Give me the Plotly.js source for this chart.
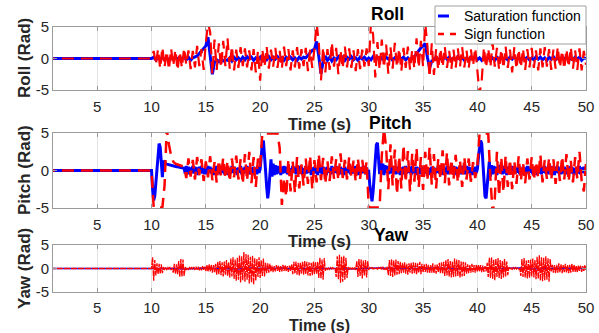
<!DOCTYPE html>
<html><head><meta charset="utf-8">
<script src="https://cdn.plot.ly/plotly-3.0.1.min.js"></script>
<style>html,body{margin:0;padding:0;background:#fff}#chart{width:599px;height:333px}</style>
</head><body><div id="chart"></div>
<script>
const seriesNames = ['Saturation function', 'Sign function'];
const panelTitles = ['Roll', 'Pitch', 'Yaw'];
const yLabels = ['Roll (Rad)', 'Pitch (Rad)', 'Yaw (Rad)'];
const xLabel = 'Time (s)';
const xTicks = [5, 10, 15, 20, 25, 30, 35, 40, 45, 50];
const yTicks = [-5, 0, 5];
const xRange = [0.93, 50];
const yRange = [-5, 5];

// Before t = 10 s every signal rests at zero
const idleTime = [0];
const idleValue = [0];
const sampleStart = 10;

// Roll, sampled every 0.2 s from 10 s
const rollStep = 0.2;
const rollSat = [
0,0.2,-0.2,0.1,-0.1, 0.2,-0.2,0.1,-0.3,0.2, -0.1,0.3,-0.2,0.2,-0.1, 0.3,-0.2,0.2,-0.3,0.1,
0.2,0.4,0.8,1.2,1.6, 2.0,3.4,0.5,-2.5,-0.6, -0.2,-0.5,-0.1,-0.4,-0.2, -0.3,0.1,-0.4,0.2,-0.2,
0.1,-0.3,0.2,-0.2,0.3, -0.1,0.2,-0.3,0.1,-0.2, 0.2,-0.3,0.1,-0.2,0.3, -0.2,0.2,-0.1,0.3,-0.2,
0.1,-0.3,0.2,-0.1,0.2, -0.2,0.1,-0.3,0.2,-0.1, 0.2,0.1,0.5,0.9,1.3, 1.5,2.7,0.3,-2.4,-0.5,
0.4,-0.3,0.2,-0.4,0.1, -0.2,0.3,-0.1,0.2,-0.3, 0.2,-0.1,0.3,-0.2,0.1, -0.3,0.2,-0.1,0.2,-0.2,
0.1,-0.2,0.3,-0.1,0.2, -0.3,0.1,-0.2,0.2,-0.1, 0.2,-0.3,0.1,-0.2,0.3, -0.1,0.2,-0.2,0.1,-0.3,
0.2,0.3,0.8,1.2,1.7, 2.0,2.4,0.2,-1.5,-0.4, -0.2,0.2,-0.3,0.1,-0.2, 0.3,-0.1,0.2,-0.2,0.1,
-0.2,0.3,-0.1,0.2,-0.3, 0.1,-0.2,0.2,-0.1,0.3, -0.2,0.1,-0.3,0.2,-0.1, 0.2,-0.2,0.1,-0.3,0.2,
-0.1,0.3,-0.2,0.1,-0.2, 0.2,-0.1,0.3,-0.2,0.1, -0.3,0.2,-0.1,0.2,-0.2, 0.1,-0.2,0.3,-0.1,0.2,
-0.2,0.1,-0.3,0.2,-0.1, 0.3,-0.2,0.1,-0.2,0.2, -0.1,0.2,-0.3,0.1,-0.2, 0.2,-0.1,0.2,-0.3,0.1,
0];
const rollSign = [
0,1.2,-1.0,1.5,-1.6, 1.8,-1.4,1.2,-1.8,1.6, -1.2,1.4,-1.9,1.1,-1.5, 1.7,-1.0,1.3,-1.7,1.2,
-1.4,2.0,-1.2,1.5,-1.8, 2.5,5.6,4.2,-2.5,3.0, -1.8,2.4,-1.5,2.8,-1.2, 3.2,-1.6,2.0,-1.9,1.4,
-1.5,1.8,-1.2,1.6,-1.4, 1.3,-1.9,1.5,-2.2,1.2, -3.5,1.5,-1.4,1.9,-1.6, 1.4,-1.3,1.7,-1.5,1.2,
-1.6,1.9,-1.2,1.5,-1.9, 1.3,-1.4,1.8,-1.6,1.5, -1.2,1.7,-2.0,1.4,-1.5, 1.6,5.6,2.5,-3.5,1.8,
-2.2,1.5,-1.8,2.6,-1.3, 1.7,-2.5,1.4,-1.6,1.9, -1.4,1.6,-1.5,1.3,-2.0, 1.5,-1.7,1.4,-1.3,1.6,
-1.2,5.6,3.8,-3.0,2.6, -1.8,3.0,-1.5,2.2,-2.4, 1.8,-1.6,2.5,-1.4,1.6, -2.0,1.7,-1.5,1.9,-1.8,
1.4,-1.6,3.2,-1.5,2.8, -1.3,5.6,2.0,-3.0,2.4, -2.6,1.5,-1.8,1.6,-1.4, 1.9,-1.5,1.2,-1.7,1.4,
-1.5,1.6,-1.3,1.8,-1.4, 1.3,-1.6,1.5,-1.2,1.7, -2.0,-5.6,-3.5,1.8,-1.5, 1.6,-1.4,2.6,-1.3,1.7,
-1.8,1.5,-1.6,1.9,-1.5, 1.4,-2.2,1.8,-1.7,1.5, -1.5,1.6,-1.8,1.5,-1.4, 1.7,-1.5,1.3,-1.9,1.6,
-1.4,1.8,-1.3,1.5,-1.8, 1.4,-1.6,1.9,-1.5,1.3, -1.7,1.5,-1.4,1.8,-1.6, 1.3,-1.8,1.6,-1.9,1.2,
-1.0];

// Pitch: saturation sampled every 0.1 s, sign every 0.2 s
const pitchSatStep = 0.1;
const pitchSat = [
0,-2.5,-4.0,-3.4,-1.6,0.4,2.2,3.6,3.1,1.2,
-0.9,1.3,1.0,0.9,0.85,0.8,0.75,0.7,0.7,0.65,
0.6,0.6,0.55,0.5,0.5,0.45,0.45,0.4,0.4,0.35,
0.3,-0.4,0.6,-0.3,0.5,-0.5,0.4,-0.3,0.6,-0.4,
0.5,-0.3,0.4,-0.6,0.5,-0.2,0.6,-0.4,0.3,-0.5,
0.4,-0.5,0.6,-0.3,0.5,-0.4,0.3,-0.6,0.5,-0.3,
0.6,-0.4,0.3,-0.5,0.4,-0.3,0.6,-0.5,0.4,-0.3,
0.5,-0.6,0.3,-0.4,0.6,-0.3,0.5,-0.4,0.3,-0.6,
0.4,-0.3,0.6,-0.5,0.3,-0.4,0.5,-0.3,0.6,-0.4,
0.3,-0.5,0.4,-0.6,0.5,-0.3,0.4,-0.5,0.6,-0.3,
0.2,1.8,3.5,4.0,2.5,0.0,-2.2,-3.7,-2.5,0.0,
1.5,-0.8,0.9,-0.6,0.7,-0.5,0.6,-0.4,0.5,-0.6,
0.5,-0.4,0.6,-0.3,0.5,-0.5,0.4,-0.6,0.3,-0.4,
0.6,-0.3,0.5,-0.5,0.4,-0.4,0.6,-0.3,0.5,-0.6,
0.3,-0.5,0.6,-0.4,0.4,-0.3,0.5,-0.6,0.4,-0.3,
0.5,-0.4,0.3,-0.6,0.6,-0.3,0.4,-0.5,0.5,-0.4,
0.4,-0.6,0.5,-0.3,0.3,-0.5,0.6,-0.4,0.4,-0.3,
0.6,-0.4,0.4,-0.5,0.5,-0.3,0.3,-0.6,0.5,-0.4,
0.3,-0.3,0.6,-0.5,0.4,-0.4,0.5,-0.3,0.6,-0.5,
0.4,-0.6,0.3,-0.4,0.5,-0.3,0.6,-0.5,0.4,-0.3,
-0.2,-2.0,-3.6,-4.1,-2.8,-0.5,1.8,3.4,3.7,2.0,
-0.5,1.3,-0.4,0.9,-0.6,0.7,-0.3,0.6,-0.5,0.4,
0.5,-0.4,0.6,-0.3,0.4,-0.5,0.5,-0.4,0.3,-0.6,
0.4,-0.3,0.5,-0.5,0.6,-0.4,0.3,-0.3,0.5,-0.6,
0.6,-0.4,0.4,-0.3,0.5,-0.6,0.4,-0.5,0.3,-0.4,
0.5,-0.3,0.6,-0.4,0.4,-0.5,0.3,-0.6,0.5,-0.3,
0.4,-0.5,0.3,-0.3,0.6,-0.4,0.5,-0.5,0.4,-0.6,
0.3,-0.4,0.6,-0.5,0.5,-0.3,0.4,-0.4,0.6,-0.3,
0.5,-0.6,0.4,-0.3,0.3,-0.5,0.6,-0.4,0.4,-0.5,
0.6,-0.3,0.5,-0.4,0.4,-0.6,0.3,-0.5,0.5,-0.3,
0.2,1.8,3.4,4.0,3.6,1.5,-1.5,-3.4,-3.7,-2.0,
0.2,1.2,-0.8,0.7,-0.5,0.6,-0.4,0.5,-0.6,0.4,
0.5,-0.3,0.4,-0.5,0.6,-0.4,0.3,-0.6,0.5,-0.4,
0.4,-0.5,0.6,-0.3,0.5,-0.4,0.4,-0.3,0.6,-0.5,
0.3,-0.4,0.5,-0.6,0.4,-0.3,0.6,-0.4,0.5,-0.3,
0.6,-0.5,0.4,-0.3,0.3,-0.6,0.5,-0.4,0.4,-0.5,
0.5,-0.3,0.6,-0.4,0.4,-0.5,0.3,-0.3,0.6,-0.4,
0.4,-0.6,0.5,-0.3,0.6,-0.4,0.4,-0.5,0.3,-0.4,
0.5,-0.4,0.3,-0.5,0.5,-0.3,0.6,-0.4,0.4,-0.6,
0.3,-0.3,0.5,-0.4,0.6,-0.5,0.4,-0.3,0.5,-0.4,
0.3];
const pitchSignStep = 0.2;
const pitchSign = [
0,-4.93,-4.93,-4.93,-4.93, -4.93,-2.0,5.6,3.5,2.0, 1.2,0.9,0.8,0.7,0.6, 0.5,-1.0,1.6,-0.8,1.4,
-1.2,1.8,-0.6,1.5,-1.4, 1.2,-0.9,1.9,-1.3,1.1, -1.6,1.4,-0.8,1.7,-1.1, 1.3,-1.5,1.6,-0.9,2.0,
-1.2,1.5,-1.8,2.2,-1.4, 2.5,-1.7,1.8,-2.2,1.6, 0.5,4.93,4.93,4.93,4.93, 4.93,4.93,4.93,4.93,3.0,
-4.6,-1.0,-3.5,1.5,-2.8, 1.2,-3.0,1.8,-2.4,0.8, -2.0,1.6,-1.8,2.0,-2.5, 1.4,-1.6,2.2,-1.3,1.7,
-1.8,1.2,-1.4,1.9,-1.1, 1.5,-1.3,2.3,-1.0,1.4, -1.2,1.8,-0.9,1.3,-1.5, 1.6,-1.1,1.4,-0.8,1.2,
-4.93,-4.93,-4.93,-4.93,-4.93, -4.93,2.0,5.6,3.0,-2.5, 3.5,-2.0,2.8,-3.2,1.9, -2.4,3.4,-1.6,2.6,-2.8,
2.3,-1.5,3.0,-2.2,1.8, -2.6,2.5,-1.4,3.1,-1.9, 2.2,-2.4,1.6,-1.2,2.7, -1.7,2.4,-2.0,1.5,-1.3,
2.1,-1.6,1.4,-2.2,1.8, -1.2,1.6,-1.5,1.1,-1.0, 0.5,4.93,4.93,4.93,4.93, 4.93,-1.0,-5.6,-3.8,2.5,
-3.4,1.8,-2.9,2.0,-2.2, 1.5,-2.5,1.3,-1.8,1.9, -1.4,1.1,-1.7,1.6,-1.2, 1.8,-1.3,1.2,-1.0,2.1,
-1.6,1.4,-1.1,1.7,-1.3, 1.5,-1.8,1.2,-1.4,1.9, -1.2,2.2,-1.5,1.3,-1.6, 1.8,-1.1,2.5,-1.4,-2.8,
1.0];

// Yaw: saturation every 1 s, sign every 0.1 s
const yawSatStep = 1;
const yawSat = [0,0.1,0,-0.1,0,0.1,0,0,-0.1,0.1,0,0,0.1,-0.1,0,0,0.1,0,-0.1,0,0,0.1,0,0,-0.1,0,0.1,0,0,-0.1,0,0.1,0,0,0.1,-0.1,0,0,0.1,0,0];
const yawSignStep = 0.1;
const yawSign = [
0,2.4,-2.6,1.8,-1.5,1.1,-1.2,1.0,-1.1,0.9,
-1.0,0.3,-0.3,0.2,-0.3,0.3,-0.2,0.3,-0.3,0.2,
-0.9,1.0,-1.1,0.9,-1.2,1.6,-1.8,2.0,-1.7,1.9,
-1.6,0.3,-0.3,0.2,-0.3,0.3,-0.2,0.3,-0.2,0.3,
-0.3,0.4,-0.3,0.4,-0.4,0.3,-0.4,0.5,-0.3,0.4,
-0.6,0.8,-0.7,0.9,-0.6,0.8,-0.9,0.7,-0.8,1.0,
-1.3,1.5,-1.2,1.6,-1.4,1.3,-1.7,1.5,-1.3,1.8,
-1.6,1.4,-1.9,2.1,-1.7,2.4,-2.2,1.9,-2.6,2.3,
-2.4,2.8,-3.0,2.6,-2.5,3.5,-2.8,3.1,-2.4,2.9,
-3.2,2.5,-2.9,2.7,-3.4,2.2,-2.6,2.0,-1.8,2.4,
-2.0,1.8,-1.6,2.1,-1.7,1.2,-1.0,1.1,-0.9,1.0,
-0.7,0.6,-0.8,0.5,-0.6,0.7,-0.5,0.6,-0.7,0.5,
-0.6,0.8,-0.5,0.7,-0.6,0.5,-0.7,0.6,-0.5,0.9,
-1.2,1.4,-1.1,1.5,-1.3,1.2,-1.5,1.3,-1.1,1.4,
-1.3,1.6,-1.2,1.4,-1.5,1.3,-1.6,1.2,-1.4,1.5,
-1.2,1.3,-1.1,1.4,-2.0,2.3,-2.1,1.9,-2.4,2.2,
-0.5,0.2,-0.2,0.1,-0.2,0.2,-0.1,0.2,-0.2,0.1,
-1.8,2.6,-2.3,2.9,-3.0,2.5,-2.8,2.7,-2.4,2.3,
-2.0,0.3,-0.2,0.3,-0.2,0.2,-0.3,0.2,-0.3,1.6,
-1.8,2.0,-1.6,1.9,-2.1,1.7,-1.5,1.8,-1.9,1.6,
-0.3,0.2,-0.1,0.2,-0.1,0.1,-0.2,0.1,-0.1,0.2,
-0.2,0.3,-0.2,0.4,-0.3,0.2,-0.3,0.4,-1.4,1.8,
-1.6,2.0,-1.8,1.7,-1.5,1.9,-1.3,1.6,-1.2,1.4,
-1.0,1.2,-0.9,1.3,-1.1,1.0,-1.3,1.1,-0.9,1.2,
-1.1,1.3,-1.0,1.2,-1.3,1.1,-0.9,1.4,-1.2,1.0,
-0.8,0.9,-0.7,1.0,-0.9,0.8,-1.0,0.7,-0.9,1.1,
-1.0,0.8,-1.1,0.9,-0.8,1.2,-1.0,1.3,-1.1,1.4,
-1.6,1.8,-1.5,2.0,-1.7,1.6,-1.9,1.5,-1.8,2.1,
-1.7,1.9,-1.6,1.8,-2.0,1.5,-1.7,1.4,-1.6,1.3,
-1.1,0.9,-1.0,0.8,-0.9,1.0,-0.8,0.7,-0.9,0.8,
-0.7,0.8,-0.6,0.7,-0.8,0.6,-0.7,0.5,-0.6,1.2,
-1.8,2.3,-2.0,2.4,-2.2,1.9,-2.5,2.1,-1.8,2.2,
-2.0,1.8,-2.2,1.6,-1.9,2.0,-1.7,1.5,-1.4,0.3,
-0.2,0.1,-0.2,0.2,-0.1,0.2,-0.1,0.1,-0.2,0.1,
-1.6,2.0,-1.8,2.2,-1.9,1.7,-2.1,1.8,-2.0,1.9,
-1.7,2.1,-1.9,1.8,-2.3,2.5,-2.2,2.8,-2.6,2.4,
-2.7,2.3,-2.5,2.6,-2.4,2.2,-2.8,2.0,-0.6,0.8,
-0.9,0.7,-1.0,0.8,-0.9,1.1,-0.8,0.9,-1.0,0.7,
-0.8,1.0,-0.9,0.7,-1.0,0.8,-0.9,1.0,-0.7,0.8,
-0.7,0.6,-0.8,0.7,-0.5,0.6,-0.7,0.5,-0.6,0.7,
-0.3];

function sampled(step, values) {
  const x = idleTime.slice(), y = idleValue.slice();
  values.forEach((v, i) => { x.push(+(sampleStart + i * step).toFixed(3)); y.push(v); });
  return {x, y};
}

const FONT = 'Liberation Sans, Arial, sans-serif';
const BLUE = '#0000ff', RED = '#ff0000';

const panels = [
  {sat: sampled(rollStep, rollSat), sign: sampled(rollStep, rollSign), wSat: 3, wSign: 2.2, dash: '12px,7px'},
  {sat: sampled(pitchSatStep, pitchSat), sign: sampled(pitchSignStep, pitchSign), wSat: 3, wSign: 2.5, dash: '12px,7px'},
  {sat: sampled(yawSatStep, yawSat), sign: sampled(yawSignStep, yawSign), wSat: 1.5, wSign: 1.3, dash: '6px,1px'}
];

const traces = [];
panels.forEach((p, k) => {
  const ax = k === 0 ? '' : String(k + 1);
  traces.push({x: p.sat.x, y: p.sat.y, xaxis: 'x' + ax, yaxis: 'y' + ax, type: 'scatter', mode: 'lines',
    name: seriesNames[0], legendgroup: 'sat', showlegend: false,
    line: {color: BLUE, width: p.wSat}, hoverinfo: 'skip'});
  traces.push({x: p.sign.x, y: p.sign.y, xaxis: 'x' + ax, yaxis: 'y' + ax, type: 'scatter', mode: 'lines',
    name: seriesNames[1], legendgroup: 'sign', showlegend: false,
    line: {color: RED, width: p.wSign, dash: p.dash}, hoverinfo: 'skip'});
});

const W = 599, H = 333;
const px = v => v / W, py = v => 1 - v / H;
const plotLeft = 53, plotRight = 586;
const boxes = [[27, 90], [133, 208], [245, 292]];
const titleX = [387, 391, 391];
const titleY = [14, 123, 235];
const xlabelY = [124.5, 241, 325.5];
const xlabelSize = [16.5, 16.5, 16];
const tickStandoff = [3, 3, 2];
const ylabelX = 24.5;

function xa(k) {
  return {domain: [px(plotLeft), px(plotRight)], range: xRange, tickvals: xTicks, ticktext: xTicks.map(String),
    showgrid: true, gridcolor: '#e3e3e3', gridwidth: 1, zeroline: false,
    showline: true, linecolor: '#9a9a9a', linewidth: 1, mirror: 'ticks',
    ticks: 'inside', ticklen: 4, tickcolor: '#9a9a9a', ticklabelstandoff: tickStandoff[k],
    tickfont: {family: FONT, size: 15, color: '#262626'}, anchor: k === 0 ? 'y' : 'y' + (k + 1), fixedrange: true};
}
function ya(k) {
  const b = boxes[k];
  return {domain: [py(b[1]), py(b[0])], range: yRange, tickvals: yTicks, ticktext: yTicks.map(String),
    showgrid: false, zeroline: false, showline: true, linecolor: '#9a9a9a', linewidth: 1, mirror: 'ticks',
    ticks: 'inside', ticklen: 4, tickcolor: '#9a9a9a',
    tickfont: {family: FONT, size: 15, color: '#262626'}, anchor: k === 0 ? 'x' : 'x' + (k + 1), fixedrange: true};
}

const annotations = [];
for (let k = 0; k < 3; k++) {
  const b = boxes[k];
  annotations.push({text: '<b>' + panelTitles[k] + '</b>', xref: 'paper', yref: 'paper', x: px(titleX[k]), y: py(titleY[k]),
    xanchor: 'center', yanchor: 'middle', showarrow: false, borderpad: 0, font: {family: FONT, size: 17.5, color: '#000'}});
  annotations.push({text: '<b>' + xLabel + '</b>', xref: 'paper', yref: 'paper', x: px((plotLeft + plotRight) / 2), y: py(xlabelY[k]),
    xanchor: 'center', yanchor: 'middle', showarrow: false, borderpad: 0, font: {family: FONT, size: xlabelSize[k], color: '#262626'}});
  annotations.push({text: '<b>' + yLabels[k] + '</b>', xref: 'paper', yref: 'paper', x: px(ylabelX), y: py((b[0] + b[1]) / 2),
    xanchor: 'center', yanchor: 'middle', textangle: -90, showarrow: false, borderpad: 0, font: {family: FONT, size: 17, color: '#262626'}});
}

// Legend (drawn as a box with line samples and labels, top right of the Roll panel)
const legBox = {x0: 435, x1: 586, y0: 6, y1: 44};
const legRows = [16, 34];
const legTextX = 463;
const shapes = [
  {type: 'rect', xref: 'paper', yref: 'paper', x0: px(legBox.x0), x1: px(legBox.x1), y0: py(legBox.y1), y1: py(legBox.y0),
    fillcolor: '#fff', line: {color: '#a0a0a0', width: 1}, layer: 'above'},
  {type: 'line', xref: 'paper', yref: 'paper', x0: px(438), x1: px(449), y0: py(legRows[0]), y1: py(legRows[0]),
    line: {color: BLUE, width: 3}, layer: 'above'},
  {type: 'line', xref: 'paper', yref: 'paper', x0: px(438), x1: px(457), y0: py(legRows[1]), y1: py(legRows[1]),
    line: {color: RED, width: 2.5, dash: '6px,6px'}, layer: 'above'}
];
seriesNames.forEach((n, i) => annotations.push({text: n, xref: 'paper', yref: 'paper', x: px(legTextX), y: py(legRows[i]),
  xanchor: 'left', yanchor: 'middle', showarrow: false, borderpad: 0, font: {family: FONT, size: 14, color: '#000'}}));

const layout = {
  width: W, height: H, margin: {l: 0, r: 0, t: 0, b: 0}, paper_bgcolor: '#fff', plot_bgcolor: '#fff',
  xaxis: xa(0), yaxis: ya(0), xaxis2: xa(1), yaxis2: ya(1), xaxis3: xa(2), yaxis3: ya(2),
  showlegend: false, shapes: shapes, annotations: annotations
};

Plotly.newPlot('chart', traces, layout, {staticPlot: true, displayModeBar: false});
</script></body></html>
